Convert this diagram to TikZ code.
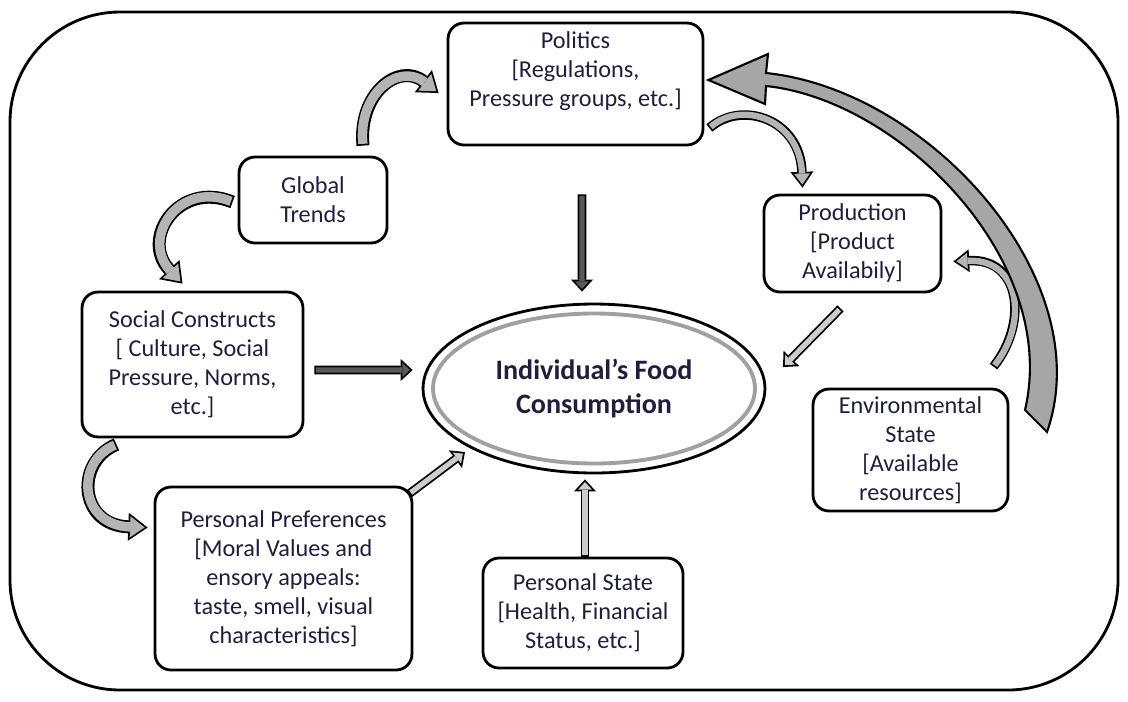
\documentclass[tikz,border=0pt]{standalone}
\usepackage{fontspec}
\setmainfont{Carlito}
\usetikzlibrary{shapes.geometric,arrows.meta,calc}
\definecolor{ink}{RGB}{30,30,62}
\definecolor{bendfill}{RGB}{180,180,180}
\definecolor{darkfill}{RGB}{90,90,90}
\definecolor{lightfill}{RGB}{205,205,205}
\definecolor{bigfill}{RGB}{166,166,166}
\definecolor{ringgray}{RGB}{160,160,160}

\begin{document}
\begin{tikzpicture}[x=0.02cm,y=-0.02cm,
    every node/.style={font=\fontsize{13.8}{16.5}\selectfont,text=ink,align=center,inner sep=2pt},
    box/.style={draw,line width=1.6pt,rounded corners=0.32cm},
    bendarrow/.style={line width=7.4pt,-{Triangle[length=11pt,width=16pt,line width=0pt]},
        postaction={draw=bendfill,line width=5.4pt,shorten <=1pt,shorten >=1.7pt,
            -{Triangle[length=8.3pt,width=12.1pt,line width=0pt]}}},
    thinbend/.style={line width=5.4pt,-{Triangle[length=9pt,width=13pt,line width=0pt]},
        postaction={draw=bendfill,line width=3.6pt,shorten <=1pt,shorten >=1.7pt,
            -{Triangle[length=6.3pt,width=9.1pt,line width=0pt]}}},
    strarrow/.style={line width=5pt,-{Triangle[length=6.8pt,width=12.5pt,line width=0pt]},
        postaction={draw=#1,line width=3pt,shorten <=1pt,shorten >=1.5pt,
            -{Triangle[length=4.3pt,width=7.9pt,line width=0pt]}}}]
    \useasboundingbox (0,0) rectangle (1128,701);
    \draw[line width=1.6pt,rounded corners=2.2cm] (10,12) rectangle (1118,690);

    \node[box,minimum width=5.1cm,minimum height=2.44cm] (pol) at (575.5,84) {Politics\\{[}Regulations,\\Pressure groups, etc.]\\ \mbox{}};
    \node[box,minimum width=2.96cm,minimum height=1.72cm] (glob) at (313,200) {Global\\Trends};
    \node[box,minimum width=3.54cm,minimum height=1.94cm] (prod) at (852.5,243.5) {Production\\{[}Product\\Availabily]};
    \node[box,minimum width=4.42cm,minimum height=2.9cm] (soc) at (192.5,364.5) {Social Constructs\\{[} Culture, Social\\Pressure, Norms,\\etc.]};
    \node[box,minimum width=3.9cm,minimum height=2.44cm] (env) at (910.5,450) {Environmental\\State\\{[}Available\\resources]};
    \node[box,minimum width=5.14cm,minimum height=3.66cm] (pp) at (283.5,578.5) {Personal Preferences\\{[}Moral Values and\\ensory appeals:\\taste, smell, visual\\characteristics]};
    \node[box,minimum width=4cm,minimum height=2.2cm] (ps) at (583,613) {Personal State\\{[}Health, Financial\\Status, etc.]};
    \node[draw,ellipse,line width=1.6pt,minimum width=6.84cm,minimum height=3.38cm,
        font=\fontsize{16}{19.5}\selectfont\bfseries] (food) at (594,388.5) {Individual’s Food\\Consumption};
    \draw[ringgray,line width=2.2pt] (food.center) ellipse [x radius=161,y radius=75];

    % straight arrows into the ellipse
    \draw[strarrow=darkfill] ($(pol.south)+(6.5,48)$) -- ($(food.north)+(-12,-11)$);
    \draw[strarrow=darkfill] ($(soc.east)+(10,5.5)$) -- ($(food.west)+(-9,-18.5)$);
    \draw[strarrow=lightfill] ($(pp.north east)+(-4,8)$) -- ($(food.center)+(-129,63.5)$);
    \draw[strarrow=lightfill] ($(ps.north)+(2,0)$) -- ($(food.south)+(-9,5)$);
    \draw[strarrow=lightfill] ($(prod.south)+(-12,15)$) -- ($(food.center)+(189,-21.5)$);

    % curved arrows
    \draw[bendarrow] ($(glob.north)+(50,-10)$) .. controls +(-5,-52) and +(-40,-31) .. ($(pol.west)+(-8,9)$);
    \draw[bendarrow] ($(glob.west)+(-5,2)$) .. controls +(-54,-22) and +(-42.5,-45) .. ($(soc.north)+(-10,-7)$);
    \draw[bendarrow] ($(soc.south)+(-76,6)$) .. controls +(-41.5,17) and +(-69,-2.5) .. ($(pp.west)+(-6,-51)$);
    \draw[thinbend] ($(pol.east)+(5,44)$) .. controls +(32,-28) and +(-2.5,-69) .. ($(prod.north)+(-50,-6)$);
    \draw[thinbend] ($(env.north)+(83,-21)$) .. controls +(34.5,-43) and +(68,-3.5) .. ($(prod.east)+(11,18)$);

    % big arrow from the environment back to politics
    \filldraw[fill=bigfill,line width=1.2pt] ($(pol.east)+(4,-4)$) -- (765,104) -- (766,86)
        .. controls (900,100) and (1060,260) .. (1025,410) -- (1047,432)
        .. controls (1100,280) and (930,90) .. (766,73) -- (768,54) -- cycle;
\end{tikzpicture}
\end{document}
